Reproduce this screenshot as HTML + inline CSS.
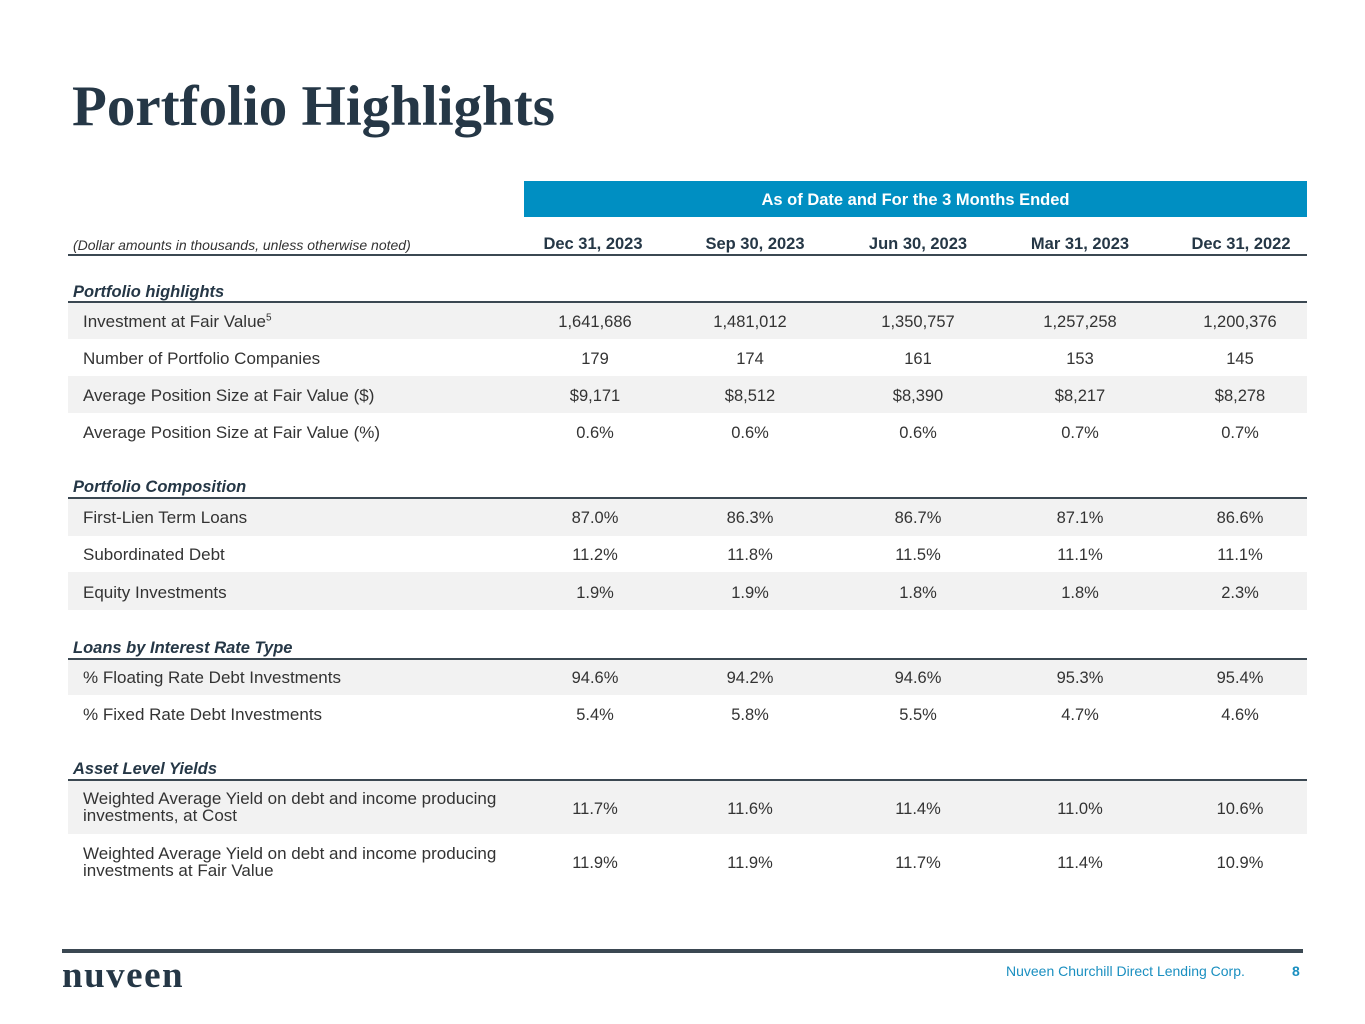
<!DOCTYPE html>
<html><head><meta charset="utf-8"><style>
body{margin:0;width:1365px;height:1024px;background:#fff;position:relative;overflow:hidden;font-family:"Liberation Sans",Arial,sans-serif;color:#253746}
.a{position:absolute}
.title{left:72px;top:74px;font:bold 57px "Liberation Serif",serif;color:#253746;white-space:nowrap}
.row{position:absolute;left:68px;width:1239px}
.sh{background:#f2f2f2}
.lab{position:absolute;left:15px;font-size:17px;color:#333}
.v{position:absolute;width:160px;text-align:center;font-size:16.5px;color:#333}
.sec{position:absolute;left:73px;font:italic bold 16.5px "Liberation Sans",sans-serif;color:#253746}
.ln{position:absolute;left:68px;width:1239px;height:2px;background:#3b4852}
.hd{position:absolute;top:235px;width:160px;text-align:center;font:bold 16.5px "Liberation Sans",sans-serif;color:#253746}
</style></head><body>
<div class="a title">Portfolio Highlights</div>
<div class="a" style="left:524px;top:181px;width:783px;height:36px;background:#008fc2;color:#fff;font-weight:bold;font-size:16.5px;text-align:center;line-height:38px">As of Date and For the 3 Months Ended</div>
<div class="a" style="left:73px;top:237px;font-size:14px;font-style:italic;color:#333">(Dollar amounts in thousands, unless otherwise noted)</div>
<div class="hd" style="left:513px">Dec 31, 2023</div>
<div class="hd" style="left:675px">Sep 30, 2023</div>
<div class="hd" style="left:838px">Jun 30, 2023</div>
<div class="hd" style="left:1000px">Mar 31, 2023</div>
<div class="hd" style="left:1161px">Dec 31, 2022</div>
<div class="ln" style="top:254px"></div>

<div class="sec" style="top:283px">Portfolio highlights</div>
<div class="ln" style="top:301px"></div>
<div class="row sh" style="top:303px;height:36px"></div>
<div class="row sh" style="top:376px;height:37px"></div>

<div class="sec" style="top:478px">Portfolio Composition</div>
<div class="ln" style="top:497px"></div>
<div class="row sh" style="top:499px;height:37px"></div>
<div class="row sh" style="top:572px;height:38px"></div>

<div class="sec" style="top:639px">Loans by Interest Rate Type</div>
<div class="ln" style="top:658px"></div>
<div class="row sh" style="top:660px;height:35px"></div>

<div class="sec" style="top:760px">Asset Level Yields</div>
<div class="ln" style="top:779px"></div>
<div class="row sh" style="top:781px;height:53px"></div>

<div class="a" style="left:62px;top:949px;width:1241px;height:4px;background:#3b4852"></div>
<div class="a" style="left:62px;top:954px;font:bold 37px 'Liberation Serif',serif;color:#253746;letter-spacing:1.5px">nuveen</div>
<div class="a" style="left:1006px;top:963px;font-size:14px;color:#1a8fc0">Nuveen Churchill Direct Lending Corp.</div>
<div class="a" style="left:1292px;top:963px;font-size:14px;font-weight:bold;color:#1a8fc0">8</div>

<div class="lab a" style="left:83px;top:312px">Investment at Fair Value<sup style="font-size:10px">5</sup></div>
<div class="lab a" style="left:83px;top:349px">Number of Portfolio Companies</div>
<div class="lab a" style="left:83px;top:386px">Average Position Size at Fair Value ($)</div>
<div class="lab a" style="left:83px;top:423px">Average Position Size at Fair Value (%)</div>
<div class="lab a" style="left:83px;top:508px">First-Lien Term Loans</div>
<div class="lab a" style="left:83px;top:545px">Subordinated Debt</div>
<div class="lab a" style="left:83px;top:583px">Equity Investments</div>
<div class="lab a" style="left:83px;top:668px">% Floating Rate Debt Investments</div>
<div class="lab a" style="left:83px;top:705px">% Fixed Rate Debt Investments</div>
<div class="lab a" style="left:83px;top:790px;line-height:17px">Weighted Average Yield on debt and income producing<br>investments, at Cost</div>
<div class="lab a" style="left:83px;top:845px;line-height:17px">Weighted Average Yield on debt and income producing<br>investments at Fair Value</div>

<div class="v" style="left:515px;top:313px">1,641,686</div><div class="v" style="left:670px;top:313px">1,481,012</div><div class="v" style="left:838px;top:313px">1,350,757</div><div class="v" style="left:1000px;top:313px">1,257,258</div><div class="v" style="left:1160px;top:313px">1,200,376</div>
<div class="v" style="left:515px;top:350px">179</div><div class="v" style="left:670px;top:350px">174</div><div class="v" style="left:838px;top:350px">161</div><div class="v" style="left:1000px;top:350px">153</div><div class="v" style="left:1160px;top:350px">145</div>
<div class="v" style="left:515px;top:387px">$9,171</div><div class="v" style="left:670px;top:387px">$8,512</div><div class="v" style="left:838px;top:387px">$8,390</div><div class="v" style="left:1000px;top:387px">$8,217</div><div class="v" style="left:1160px;top:387px">$8,278</div>
<div class="v" style="left:515px;top:424px">0.6%</div><div class="v" style="left:670px;top:424px">0.6%</div><div class="v" style="left:838px;top:424px">0.6%</div><div class="v" style="left:1000px;top:424px">0.7%</div><div class="v" style="left:1160px;top:424px">0.7%</div>
<div class="v" style="left:515px;top:509px">87.0%</div><div class="v" style="left:670px;top:509px">86.3%</div><div class="v" style="left:838px;top:509px">86.7%</div><div class="v" style="left:1000px;top:509px">87.1%</div><div class="v" style="left:1160px;top:509px">86.6%</div>
<div class="v" style="left:515px;top:546px">11.2%</div><div class="v" style="left:670px;top:546px">11.8%</div><div class="v" style="left:838px;top:546px">11.5%</div><div class="v" style="left:1000px;top:546px">11.1%</div><div class="v" style="left:1160px;top:546px">11.1%</div>
<div class="v" style="left:515px;top:584px">1.9%</div><div class="v" style="left:670px;top:584px">1.9%</div><div class="v" style="left:838px;top:584px">1.8%</div><div class="v" style="left:1000px;top:584px">1.8%</div><div class="v" style="left:1160px;top:584px">2.3%</div>
<div class="v" style="left:515px;top:669px">94.6%</div><div class="v" style="left:670px;top:669px">94.2%</div><div class="v" style="left:838px;top:669px">94.6%</div><div class="v" style="left:1000px;top:669px">95.3%</div><div class="v" style="left:1160px;top:669px">95.4%</div>
<div class="v" style="left:515px;top:706px">5.4%</div><div class="v" style="left:670px;top:706px">5.8%</div><div class="v" style="left:838px;top:706px">5.5%</div><div class="v" style="left:1000px;top:706px">4.7%</div><div class="v" style="left:1160px;top:706px">4.6%</div>
<div class="v" style="left:515px;top:800px">11.7%</div><div class="v" style="left:670px;top:800px">11.6%</div><div class="v" style="left:838px;top:800px">11.4%</div><div class="v" style="left:1000px;top:800px">11.0%</div><div class="v" style="left:1160px;top:800px">10.6%</div>
<div class="v" style="left:515px;top:854px">11.9%</div><div class="v" style="left:670px;top:854px">11.9%</div><div class="v" style="left:838px;top:854px">11.7%</div><div class="v" style="left:1000px;top:854px">11.4%</div><div class="v" style="left:1160px;top:854px">10.9%</div>
</body></html>
